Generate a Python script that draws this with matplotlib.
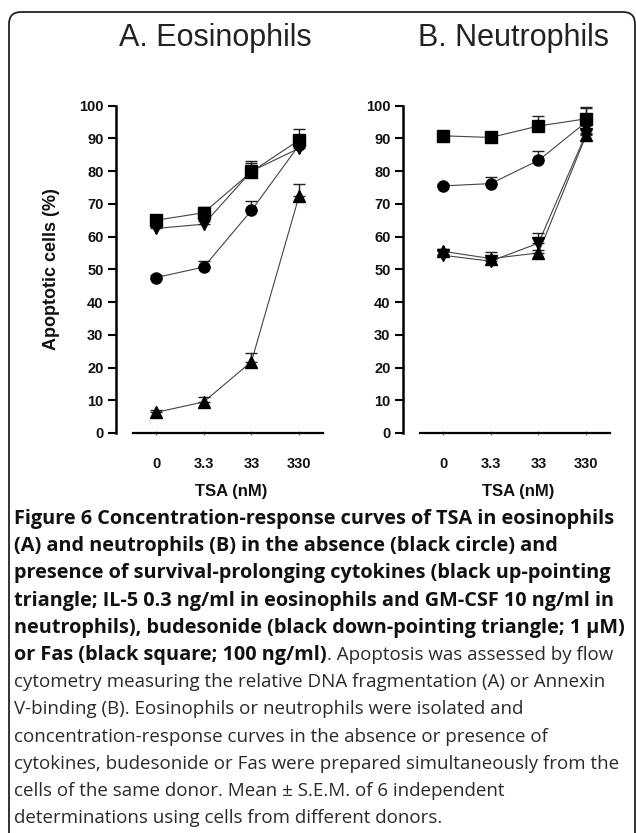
import matplotlib
matplotlib.use("Agg")
import matplotlib.pyplot as plt
from matplotlib.patches import FancyBboxPatch

# ---------------- data ----------------
tsa_labels = ["0", "3.3", "33", "330"]

eos_circle = [47.5, 50.7, 68.0, 88.0]
eos_circle_err = [0.7, 1.8, 3.0, 1.5]
eos_up = [6.3, 9.5, 21.8, 72.5]
eos_up_err = [0.6, 1.6, 2.7, 3.6]
eos_down = [62.5, 63.8, 80.0, 87.0]
eos_down_err = [0.5, 1.0, 2.4, 2.6]
eos_square = [65.0, 67.3, 79.8, 89.5]
eos_square_err = [0.8, 1.8, 3.2, 3.3]

neu_circle = [75.5, 76.2, 83.3, 95.0]
neu_circle_err = [0.5, 2.0, 3.0, 4.3]
neu_up = [55.5, 53.3, 55.0, 91.0]
neu_up_err = [0.7, 2.0, 1.0, 0.8]
neu_down = [54.3, 52.5, 58.0, 91.5]
neu_down_err = [0.5, 1.0, 3.2, 1.0]
neu_square = [90.8, 90.3, 93.8, 96.0]
neu_square_err = [0.6, 1.2, 3.2, 3.7]

panel_titles = ["A. Eosinophils", "B. Neutrophils"]
y_ticks = [0, 10, 20, 30, 40, 50, 60, 70, 80, 90, 100]

caption_bold = [
    "Figure 6 Concentration-response curves of TSA in eosinophils",
    "(A) and neutrophils (B) in the absence (black circle) and",
    "presence of survival-prolonging cytokines (black up-pointing",
    "triangle; IL-5 0.3 ng/ml in eosinophils and GM-CSF 10 ng/ml in",
    "neutrophils), budesonide (black down-pointing triangle; 1 \u03bcM)",
    "or Fas (black square; 100 ng/ml)",
]
caption_regular_tail = ". Apoptosis was assessed by flow"
caption_regular = [
    "cytometry measuring the relative DNA fragmentation (A) or Annexin",
    "V-binding (B). Eosinophils or neutrophils were isolated and",
    "concentration-response curves in the absence or presence of",
    "cytokines, budesonide or Fas were prepared simultaneously from the",
    "cells of the same donor. Mean \u00b1 S.E.M. of 6 independent",
    "determinations using cells from different donors.",
]

# ---------------- figure ----------------
W, H = 636, 833
fig = plt.figure(figsize=(W / 100, H / 100), dpi=100)
fig.patch.set_facecolor("white")

bg = fig.add_axes([0, 0, 1, 1])
bg.set_xlim(0, W)
bg.set_ylim(H, 0)
bg.axis("off")
bg.add_patch(FancyBboxPatch((9, 12), 626, 900,
                            boxstyle="round,pad=0,rounding_size=12",
                            fill=False, edgecolor="#222222", linewidth=1.3,
                            clip_on=False))

sans = ["Liberation Sans", "DejaVu Sans"]
cap_font = ["Open Sans", "DejaVu Sans"]

ax_l = 116
ax_w = 207
ax_top = 105.7
ax_bot = 433.0

panels = [
    (ax_l, [(eos_circle, eos_circle_err, "o"), (eos_up, eos_up_err, "^"),
            (eos_down, eos_down_err, "v"), (eos_square, eos_square_err, "s")]),
    (403, [(neu_circle, neu_circle_err, "o"), (neu_up, neu_up_err, "^"),
           (neu_down, neu_down_err, "v"), (neu_square, neu_square_err, "s")]),
]

title_x = [215, 514]
xs = list(range(len(tsa_labels)))

for i, (left, series) in enumerate(panels):
    ax = fig.add_axes([left / W, 1 - ax_bot / H, ax_w / W, (ax_bot - ax_top) / H])
    ax.set_xlim(-0.84, 3.5)
    ax.set_ylim(0, 100)
    for s in ["top", "right"]:
        ax.spines[s].set_visible(False)
    ax.spines["left"].set_linewidth(1.8)
    ax.spines["bottom"].set_linewidth(1.6)
    ax.spines["bottom"].set_bounds(-0.49, 3.5)
    ax.set_yticks(y_ticks)
    ax.set_yticklabels([str(v) for v in y_ticks], fontfamily=sans,
                       fontweight="bold", fontsize=10.5, color="#111111")
    ax.tick_params(axis="y", direction="out", length=6, width=1.5, pad=3)
    ax.set_xticks(xs)
    ax.set_xticklabels(tsa_labels, fontfamily=sans, fontweight="bold",
                       fontsize=10.5, color="#111111")
    ax.tick_params(axis="x", direction="inout", length=3, width=0.8, pad=16,
                   color="#666666")
    ax.set_facecolor("none")

    for vals, errs, mk in series:
        ax.plot(xs, vals, color="#444444", linewidth=0.8, zorder=2, clip_on=False)
        ax.errorbar(xs, vals, yerr=[[0] * len(errs), errs], fmt="none",
                    ecolor="#222222", elinewidth=1.0, capsize=4.0,
                    capthick=1.0, zorder=3, clip_on=False)
        ax.plot(xs, vals, linestyle="none", marker=mk, markersize=8,
                color="black", markeredgecolor="black", zorder=4, clip_on=False)

    bg.text(title_x[i], 38, panel_titles[i], ha="center", va="center",
            fontfamily=sans, fontsize=22, color="#222222")
    bg.text(left + (ax_w + 24) / 2, 491, "TSA (nM)", ha="center", va="center",
            fontfamily=sans, fontweight="bold", fontsize=12, color="#111111")

bg.text(52, 269, "Apoptotic cells (%)", rotation=90, ha="center", va="center",
        fontfamily=sans, fontweight="bold", fontsize=13, color="#111111")

# ---------------- caption ----------------
cap_x = 14
cap_y0 = 519
cap_dy = 27.2
bold_size = 14.3
reg_size = 13.5
fig.canvas.draw()
renderer = fig.canvas.get_renderer()
lines_y = [cap_y0 + k * cap_dy for k in range(12)]
for k, txt in enumerate(caption_bold):
    t = bg.text(cap_x, lines_y[k], txt, ha="left", va="center",
                fontfamily=cap_font, fontweight="bold", fontsize=bold_size,
                color="#111111")
    if k == len(caption_bold) - 1:
        bb = t.get_window_extent(renderer=renderer)
        bg.text(bb.x1, lines_y[k], caption_regular_tail, ha="left", va="center",
                fontfamily=cap_font, fontsize=reg_size, color="#2a2a2a")
for j, txt in enumerate(caption_regular):
    bg.text(cap_x, lines_y[len(caption_bold) + j], txt, ha="left", va="center",
            fontfamily=cap_font, fontsize=reg_size, color="#2a2a2a")

fig.savefig("out.png", dpi=100, facecolor="white")
